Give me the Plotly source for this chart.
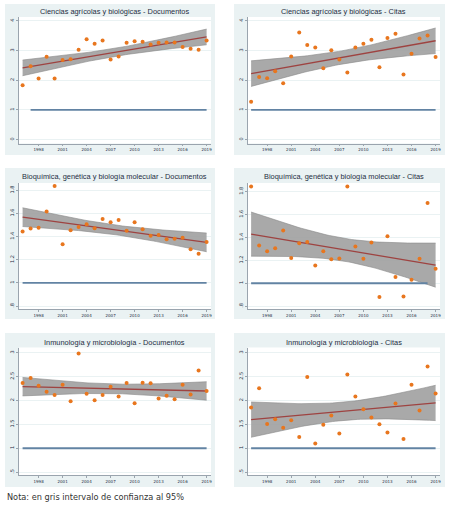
import numpy as np
import plotly.graph_objects as go

years = list(range(1996, 2020))

titles = [
    "Ciencias agrícolas y biológicas - Documentos",
    "Ciencias agrícolas y biológicas - Citas",
    "Bioquímica, genética y biología molecular - Documentos",
    "Bioquímica, genética y biología molecular - Citas",
    "Inmunología y microbiología - Documentos",
    "Inmunología y microbiología - Citas",
]

agri_docs = [1.83, 2.47, 2.06, 2.79, 2.06, 2.68, 2.71, 3.03, 3.38, 3.23, 3.34, 2.70,
             2.80, 3.26, 3.31, 3.30, 3.20, 3.26, 3.27, 3.27, 3.12, 3.06, 3.03, 3.34]
agri_citas = [1.28, 2.11, 2.07, 2.30, 1.90, 2.80, 3.61, 3.19, 3.10, 2.40, 3.01, 2.70,
              2.26, 3.10, 3.23, 3.36, 2.44, 3.42, 3.57, 2.19, 2.89, 3.41, 3.51, 2.78]
bio_docs = [1.443, 1.469, 1.477, 1.617, 1.837, 1.334, 1.454, 1.483, 1.506, 1.471, 1.551, 1.523,
            1.543, 1.449, 1.523, 1.463, 1.406, 1.414, 1.377, 1.380, 1.389, 1.291, 1.251, 1.354]
bio_citas = [1.845, 1.33, 1.28, 1.305, 1.46, 1.22, 1.35, 1.36, 1.155, 1.28, 1.21, 1.215,
             1.845, 1.32, 1.213, 1.355, 0.88, 1.41, 1.055, 0.885, 1.03, 1.213, 1.70, 1.127]
inmu_docs = [2.366, 2.472, 2.31, 2.183, 2.113, 2.331, 1.986, 2.986, 2.141, 2.007, 2.113, 2.289,
             2.085, 2.366, 1.944, 2.373, 2.359, 2.042, 2.099, 2.028, 2.331, 2.127, 2.627, 2.197]
inmu_citas = [1.853, 2.259, 1.51, 1.608, 1.427, 1.587, 1.238, 2.49, 1.098, 1.49, 1.685, 1.308,
              2.545, 2.084, 1.818, 1.643, 1.503, 1.329, 1.937, 1.196, 2.329, 1.79, 2.713, 2.147]

series = [agri_docs, agri_citas, bio_docs, bio_citas, inmu_docs, inmu_citas]

ref_value = 1
ref_start = [1997, 1996, 1996, 1996, 1996, 1996]
ref_end = [2019, 2019, 2019, 2018, 2019, 2019]

xticks = [1998, 2001, 2004, 2007, 2010, 2013, 2016, 2019]
yticks_a = [0, 1, 2, 3, 4]
yticks_a_lab = ["0", "1", "2", "3", "4"]
yticks_b = [0.8, 1.0, 1.2, 1.4, 1.6, 1.8]
yticks_b_lab = [".8", "1", "1.2", "1.4", "1.6", "1.8"]
yticks_c = [0.5, 1.0, 1.5, 2.0, 2.5, 3.0]
yticks_c_lab = [".5", "1", "1.5", "2", "2.5", "3"]
yticks = [(yticks_a, yticks_a_lab)] * 2 + [(yticks_b, yticks_b_lab)] * 2 + [(yticks_c, yticks_c_lab)] * 2

yranges = [[-0.13, 4.13], [-0.13, 4.13], [0.775, 1.862], [0.775, 1.875], [0.44, 3.11], [0.44, 3.11]]
xrange_ = [1995.55, 2019.55]

W, H = 450, 506
# plot areas (px): left, right, top, bottom
plots = [
    (19, 211, 17, 143.5), (247.5, 440, 17, 143.5),
    (19, 211, 183, 309), (247.5, 440, 183, 309),
    (19, 211, 347.5, 475), (247.5, 440, 347.5, 475),
]
boxes = [
    (5, 215, 4, 155), (234, 445, 4, 155),
    (5, 215, 168, 319), (234, 445, 168, 319),
    (5, 215, 333, 487), (234, 445, 333, 487),
]
title_y = [12, 12, 176, 176, 342, 342]

BG = "#EAF2F3"
ORANGE = "#E8761E"
FITC = "#9E4341"
REFC = "#6283A3"
TXT = "#1E2D42"

fig = go.Figure()
shapes = []
annotations = []

x = np.array(years, dtype=float)
tcrit = 2.0739  # t(0.975, 22)

for i in range(6):
    xa = "x" if i == 0 else f"x{i+1}"
    ya = "y" if i == 0 else f"y{i+1}"
    xk = "xaxis" if i == 0 else f"xaxis{i+1}"
    yk = "yaxis" if i == 0 else f"yaxis{i+1}"
    L, R, T, B = plots[i]
    bl, br, bt, bb = boxes[i]

    shapes.append(dict(type="rect", xref="paper", yref="paper", layer="below",
                       x0=bl / W, x1=br / W, y0=1 - bb / H, y1=1 - bt / H,
                       fillcolor=BG, line=dict(width=0)))
    shapes.append(dict(type="rect", xref=f"{xa} domain", yref=f"{ya} domain", layer="below",
                       x0=0, x1=1, y0=0, y1=1, fillcolor="white", line=dict(width=0)))

    y = np.array(series[i], dtype=float)
    n = len(x)
    b, a = np.polyfit(x, y, 1)
    resid = y - (a + b * x)
    s = np.sqrt(np.sum(resid ** 2) / (n - 2))
    xm = x.mean()
    sxx = np.sum((x - xm) ** 2)
    xf = np.linspace(x.min(), x.max(), 60)
    yf = a + b * xf
    se = s * np.sqrt(1 / n + (xf - xm) ** 2 / sxx)
    lo, hi = yf - tcrit * se, yf + tcrit * se

    fig.add_trace(go.Scatter(x=xf, y=lo, mode="lines", line=dict(color="#888888", width=0.6),
                             xaxis=xa, yaxis=ya, showlegend=False, hoverinfo="skip"))
    fig.add_trace(go.Scatter(x=xf, y=hi, mode="lines", line=dict(color="#888888", width=0.6),
                             fill="tonexty", fillcolor="rgba(160,160,160,0.9)",
                             xaxis=xa, yaxis=ya, showlegend=False, hoverinfo="skip"))
    fig.add_trace(go.Scatter(x=xf, y=yf, mode="lines", line=dict(color=FITC, width=1.3),
                             xaxis=xa, yaxis=ya, showlegend=False))
    fig.add_trace(go.Scatter(x=[ref_start[i], ref_end[i]], y=[ref_value, ref_value], mode="lines",
                             line=dict(color=REFC, width=1.8),
                             xaxis=xa, yaxis=ya, showlegend=False))
    fig.add_trace(go.Scatter(x=years, y=series[i], mode="markers",
                             marker=dict(color=ORANGE, size=4),
                             xaxis=xa, yaxis=ya, showlegend=False))

    tv, tl = yticks[i]
    fig.layout[xk] = dict(domain=[L / W, R / W], range=xrange_, anchor=ya,
                          tickvals=xticks, ticktext=[str(t) for t in xticks],
                          tickfont=dict(size=4, color=TXT, family="DejaVu Sans"),
                          ticks="outside", ticklen=2, tickcolor="#9AA4AE", tickwidth=0.6,
                          showgrid=False, zeroline=False, showline=True,
                          linecolor="#9AA4AE", linewidth=0.8, fixedrange=True)
    fig.layout[yk] = dict(domain=[1 - B / H, 1 - T / H], range=yranges[i], anchor=xa,
                          tickvals=tv, ticktext=tl, tickangle=-90,
                          tickfont=dict(size=5, color=TXT, family="DejaVu Sans"),
                          ticks="outside", ticklen=2, tickcolor="#9AA4AE", tickwidth=0.6,
                          showgrid=True, gridcolor=BG, gridwidth=1, zeroline=False,
                          showline=True, linecolor="#9AA4AE", linewidth=0.8, fixedrange=True)

    annotations.append(dict(text=titles[i], xref="paper", yref="paper",
                            x=((L + R) / 2) / W, y=1 - title_y[i] / H,
                            xanchor="center", yanchor="middle", showarrow=False,
                            font=dict(size=7.4, color=TXT, family="Liberation Sans")))

annotations.append(dict(text="Nota: en gris intervalo de confianza al 95%", xref="paper", yref="paper",
                        x=5 / W, y=1 - 497 / H, xanchor="left", yanchor="middle", showarrow=False,
                        font=dict(size=8.2, color="#333333", family="DejaVu Sans")))

fig.update_layout(width=W, height=H, margin=dict(l=0, r=0, t=0, b=0),
                  paper_bgcolor="white", plot_bgcolor="rgba(0,0,0,0)",
                  shapes=shapes, annotations=annotations, showlegend=False)

fig.write_html("out.html", config={"displayModeBar": False})
